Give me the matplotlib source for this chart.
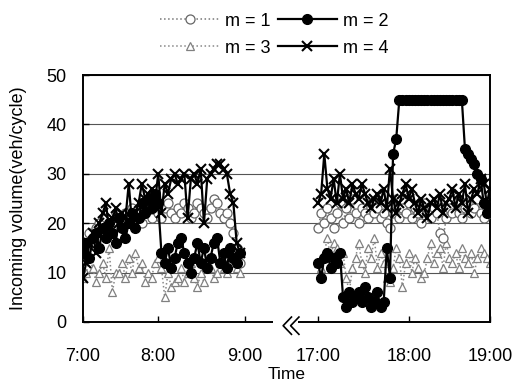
import numpy as np
import matplotlib
matplotlib.use("Agg")
import matplotlib.pyplot as plt
from matplotlib.transforms import blended_transform_factory

plt.rcParams['font.family'] = ['Liberation Sans', 'DejaVu Sans']

# ---- data (incoming volume, veh/cycle) ----
m1_am = [13, 16, 18, 17, 19, 20, 18, 21, 19, 20, 22, 21, 19, 22, 20, 23, 21, 22, 20, 24,
         22, 21, 23, 22, 21, 23, 24, 22, 21, 23, 22, 24, 23, 21, 22, 24, 23, 22, 21, 23,
         25, 24, 22, 21, 22, 20, 18, 15, 12]
m2_am = [14, 16, 13, 17, 18, 15, 19, 17, 20, 18, 16, 21, 19, 17, 20, 22, 19, 21, 24, 22,
         25, 23, 26, 24, 14, 12, 15, 11, 13, 16, 17, 14, 12, 10, 13, 16, 12, 15, 11, 13,
         16, 17, 12, 14, 11, 15, 13, 12, 14]
m3_am = [9, 10, 13, 11, 8, 10, 12, 9, 15, 6, 10, 10, 12, 9, 13, 10, 14, 11, 12, 8,
         10, 9, 12, 13, 11, 5, 10, 7, 8, 9, 11, 8, 10, 12, 9, 7, 10, 8, 12, 11,
         9, 10, 12, 11, 10, 13, 12, 11, 10]
m4_am = [9, 12, 16, 18, 14, 20, 22, 24, 19, 21, 23, 20, 22, 21, 28, 20, 22, 24, 28, 25,
         26, 27, 24, 30, 22, 28, 26, 29, 30, 28, 29, 30, 21, 29, 30, 28, 31, 20, 29, 30,
         31, 32, 32, 31, 30, 26, 24, 16, 14]

m1_pm = [19, 22, 20, 23, 21, 19, 22, 24, 20, 23, 21, 25, 22, 20, 23, 22, 21, 24, 22, 23,
         21, 22, 20, 19, 22, 25, 21, 23, 22, 24, 21, 23, 22, 20, 24, 22, 21, 23, 22, 18,
         17, 21, 23, 22, 24, 22, 21, 23, 24, 22, 23, 25, 22, 21, 23, 22]
m2_pm = [12, 9, 13, 14, 11, 13, 12, 14, 5, 3, 6, 4, 5, 6, 4, 7, 5, 3, 4, 6,
         3, 4, 15, 9, 34, 37] + [45] * 21 + [35, 34, 33, 32, 30, 29, 24, 22, 23]
m3_pm = [12, 11, 14, 17, 13, 16, 15, 12, 14, 9, 6, 11, 13, 16, 12, 10, 15, 13, 17, 11,
         14, 12, 9, 8, 11, 15, 13, 7, 12, 14, 10, 13, 11, 9, 10, 13, 16, 12, 14, 15,
         11, 16, 13, 12, 14, 11, 15, 13, 12, 14, 10, 13, 15, 14, 13, 12]
m4_pm = [24, 26, 34, 27, 25, 29, 24, 30, 25, 27, 24, 28, 26, 25, 28, 26, 24, 23, 25, 26,
         24, 27, 23, 31, 25, 22, 24, 26, 28, 25, 27, 24, 22, 25, 23, 21, 24, 25, 23, 26,
         22, 24, 25, 27, 23, 26, 24, 28, 22, 25, 27, 26, 29, 28, 24, 27]

tick_labels = ['7:00', '8:00', '9:00', '17:00', '18:00', '19:00']
tick_pos = [0.0, 0.90, 1.95, 2.83, 3.93, 4.90]   # compressed time axis (break after 9:00)
am_span = (0.0, 1.89)
pm_span = (2.83, 4.90)
break_pos = 2.41

x_am = np.linspace(am_span[0], am_span[1], len(m1_am))
x_pm = np.linspace(pm_span[0], pm_span[1], len(m1_pm))

fig = plt.figure(figsize=(5.12, 3.87), dpi=100)
ax = fig.add_axes([0.162, 0.168, 0.795, 0.638])

styles = {
    'm = 1': dict(color='#777777', ls=':', lw=1.1, marker='o', ms=6.5, mfc='white', mec='#666666', mew=0.9),
    'm = 2': dict(color='black', ls='-', lw=1.6, marker='o', ms=7, mfc='black', mec='black'),
    'm = 3': dict(color='#888888', ls=':', lw=1.1, marker='^', ms=6, mfc='white', mec='#808080', mew=0.9),
    'm = 4': dict(color='black', ls='-', lw=1.6, marker='x', ms=7, mew=1.5),
}
series = {'m = 1': (m1_am, m1_pm), 'm = 2': (m2_am, m2_pm),
          'm = 3': (m3_am, m3_pm), 'm = 4': (m4_am, m4_pm)}
zorders = {'m = 1': 3, 'm = 2': 4, 'm = 3': 2, 'm = 4': 5}
handles = {}
for name in ['m = 3', 'm = 1', 'm = 4', 'm = 2']:
    am, pm = series[name]
    h, = ax.plot(x_am, am, label=name, zorder=zorders[name], **styles[name])
    ax.plot(x_pm, pm, zorder=zorders[name], **styles[name])
    handles[name] = h

ax.set_xlim(0, 4.90)
ax.set_ylim(0, 50)
ax.set_yticks([0, 10, 20, 30, 40, 50])
ax.set_xticks(tick_pos)
ax.set_xticklabels(tick_labels)
ax.tick_params(axis='both', labelsize=13, direction='in', length=4, width=1)
ax.tick_params(axis='x', pad=19)
ax.tick_params(axis='y', pad=12)
ax.yaxis.grid(True, color='#555555', lw=0.8)
ax.set_axisbelow(True)
for s in ax.spines.values():
    s.set_linewidth(1.4)

ax.set_xlabel('Time', fontsize=12.5, labelpad=1)
ax.set_ylabel('Incoming volume(veh/cycle)', fontsize=13, labelpad=14)

# axis break mark
tr = blended_transform_factory(ax.transData, ax.transAxes)
ax.add_patch(plt.Rectangle((break_pos - 0.12, -0.03), 0.3, 0.06, transform=tr,
                           facecolor='white', edgecolor='none', clip_on=False, zorder=10))
for dx in (0.0, 0.09):
    ax.plot([break_pos + 0.1 + dx, break_pos + dx, break_pos + 0.1 + dx],
            [0.02, -0.015, -0.05], transform=tr, color='black', lw=1.2,
            clip_on=False, zorder=11)

order = ['m = 1', 'm = 3', 'm = 2', 'm = 4']
fig.legend([handles[k] for k in order], order, loc='upper center',
           bbox_to_anchor=(0.535, 1.0), ncol=2, frameon=False, fontsize=13,
           handlelength=3.3, columnspacing=0.4, labelspacing=0.55, handletextpad=0.3,
           borderaxespad=0.3)

fig.savefig('out.png', dpi=100)
